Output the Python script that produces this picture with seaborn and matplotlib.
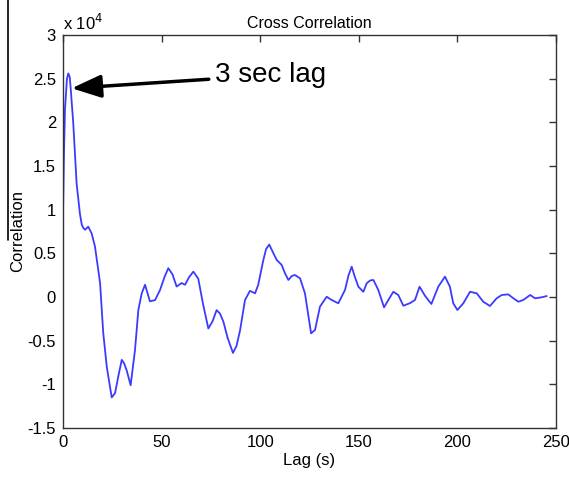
import matplotlib
matplotlib.use("Agg")
import matplotlib.pyplot as plt
import seaborn as sns
import numpy as np
import pandas as pd
from matplotlib.ticker import FuncFormatter
from matplotlib.lines import Line2D

# ---- data ----
lags = [0, 0.5, 1, 2, 2.7, 3.4, 3.9, 5.2, 6.9, 8.6, 9.5, 10.3, 11.2, 12.8, 14.5, 16.2,
        18.8, 20.4, 22.2, 24.7, 26.4, 28.3, 29.8, 31.0, 32.3, 34.3, 36.5, 38.2, 39.9,
        41.6, 44.1, 46.7, 49.2, 51.5, 53.4, 55.5, 57.6, 60.2, 61.9, 64.0, 66.1, 68.6,
        71.0, 73.7, 75.8, 77.9, 79.6, 81.3, 83.5, 86.2, 88.0, 89.8, 92.3, 94.8, 97.4,
        99.0, 101.6, 103.0, 104.6, 106.7, 108.4, 110.9, 112.6, 114.3, 116.0, 117.6,
        120.2, 122.7, 125.8, 127.8, 130.3, 133.7, 136.2, 139.6, 143.0, 144.8, 146.4,
        148.0, 149.8, 152.3, 154.0, 155.8, 157.4, 159.9, 162.8, 165.0, 167.5, 170.0,
        172.6, 176.0, 178.5, 180.8, 183.6, 186.8, 190.3, 193.7, 196.2, 197.9, 200.0,
        203.0, 206.4, 209.8, 213.1, 216.5, 219.9, 222.5, 225.8, 228.4, 230.9, 233.4,
        236.9, 239.4, 242.8, 245.3]
correlation = [9500, 16500, 21500, 25000, 25600, 25200, 23900, 19900, 13000, 9500, 8300,
               7900, 7700, 8050, 7300, 5800, 1600, -4100, -8000, -11500, -11000, -8800,
               -7200, -7600, -8400, -10100, -6100, -1500, 400, 1400, -500, -350, 800,
               2300, 3300, 2600, 1200, 1600, 1400, 2300, 2900, 2100, -800, -3600, -2800,
               -1500, -1900, -2800, -4700, -6400, -5600, -3800, -340, 700, 420, 1400,
               4240, 5500, 6000, 5000, 4240, 3670, 2700, 1950, 2400, 2520, 2140, 420,
               -4160, -3780, -1110, 30, -340, -720, 800, 2500, 3470, 2300, 1180, 600,
               1570, 1900, 1950, 800, -1180, -340, 600, 230, -1000, -700, -340, 1180,
               130, -800, 1180, 2330, 1180, -720, -1490, -720, 600, 420, -540, -1030,
               -150, 230, 300, -150, -540, -340, 230, -150, -30, 110]
x_ticks = [0, 50, 100, 150, 200, 250]
y_ticks = [-15000, -10000, -5000, 0, 5000, 10000, 15000, 20000, 25000, 30000]

df = pd.DataFrame({"Lag (s)": lags, "Correlation": correlation})

sns.set_style("white")
plt.rcParams["font.family"] = ["Liberation Sans", "DejaVu Sans"]
plt.rcParams["text.color"] = "black"
plt.rcParams["axes.labelcolor"] = "black"
plt.rcParams["xtick.color"] = "black"
plt.rcParams["ytick.color"] = "black"

fig = plt.figure(figsize=(5.69, 4.78), dpi=100)
ax = fig.add_axes([63 / 569, 1 - 428 / 478, (556 - 63) / 569, (428 - 35) / 478])

sns.lineplot(data=df, x="Lag (s)", y="Correlation", ax=ax, color="#3b3bff",
             linewidth=1.3, sort=False, estimator=None)

ax.set_xlim(0, 250)
ax.set_ylim(-15000, 30000)
ax.set_xticks(x_ticks)
ax.set_yticks(y_ticks)
ax.yaxis.set_major_formatter(FuncFormatter(lambda v, p: f"{v / 1e4:g}"))
ax.tick_params(direction="in", length=5, width=1, top=True, right=True,
               labelsize=12, pad=5, color="#333333", labelcolor="black")
for s in ax.spines.values():
    s.set_visible(True)
    s.set_color("#333333")
    s.set_linewidth(1.0)

ax.set_xlabel("Lag (s)", fontsize=12, labelpad=2, color="black")
ax.set_ylabel("Correlation", fontsize=12, labelpad=2, color="black")
ax.set_title("Cross Correlation", fontsize=11.5, pad=5, color="black")

ax.text(0.0, 1.005, r"x 10$^4$", transform=ax.transAxes, fontsize=12,
        ha="left", va="bottom", color="black")

ax.annotate("3 sec lag", xy=(4.4, 23900), xytext=(77, 25400),
            fontsize=20, ha="left", va="center", color="black",
            arrowprops=dict(arrowstyle="-|>,head_length=0.9,head_width=0.35",
                            color="black", lw=2.5, shrinkA=2, shrinkB=0))

fig.add_artist(Line2D([8 / 569, 8 / 569], [1.0, 1 - 240 / 478],
                      transform=fig.transFigure, color="black", lw=1.2))

fig.savefig("out.png", dpi=100)
